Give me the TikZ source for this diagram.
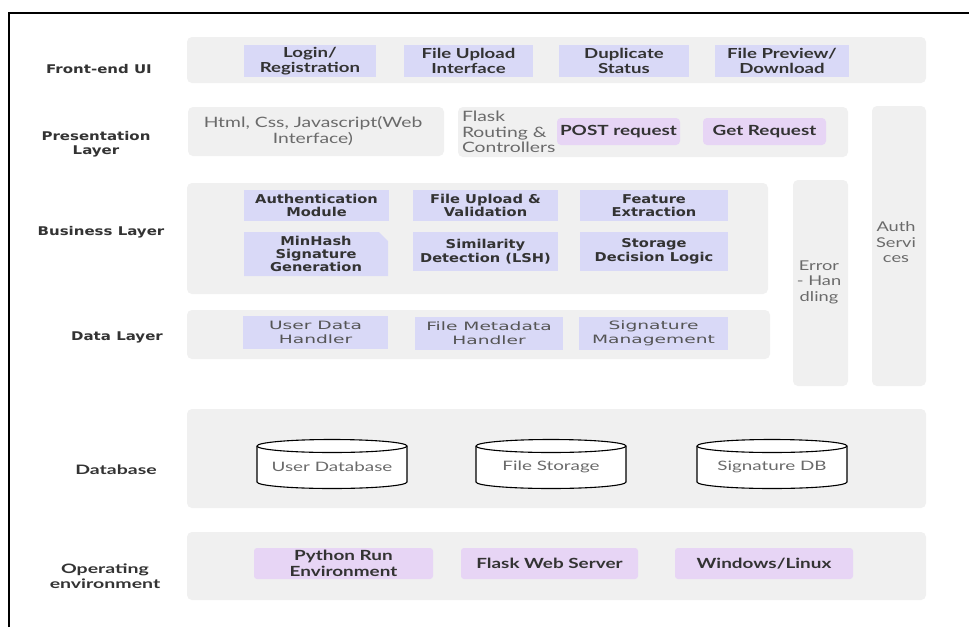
\documentclass[tikz,border=0pt]{standalone}
\usepackage{fontspec}
\setmainfont[FakeStretch=1.2]{Lato}
\newfontfamily\latowide[FakeStretch=1.35]{Lato}
\newfontfamily\latoxwide[FakeStretch=1.45]{Lato}
\newfontfamily\latolab[FakeStretch=1.5]{Lato}
\newfontfamily\dvfont[FakeStretch=1.2]{DejaVu Sans}
\newfontfamily\dvlab[FakeStretch=1.25]{DejaVu Sans}
\newfontfamily\dvwide[FakeStretch=1.62]{DejaVu Sans}
\definecolor{bandc}{HTML}{F0F0F0}
\definecolor{lav}{HTML}{D9D9F7}
\definecolor{pur}{HTML}{E7D5F5}
\definecolor{txt}{HTML}{333333}
\definecolor{gtxt}{HTML}{6A6A6A}
\definecolor{dtxt}{HTML}{555555}
\newcommand\bx[7]{\node[#1, anchor=north west, minimum width={(#5)-(#3)}, minimum height={(#6)-(#4)}] (#2) at (#3,#4) {#7};}
\tikzset{
  base/.style={inner sep=0pt, outer sep=0pt, align=center},
  band/.style={base, fill=bandc, rounded corners=5pt},
  layerlab/.style={base, text=txt, font=\dvlab\bfseries\fontsize{12}{14}\selectfont},
  layerlabb/.style={base, text=txt, font=\latolab\bfseries\fontsize{13}{15.5}\selectfont},
  fbox/.style={base, fill=lav, text=txt, font=\latowide\bfseries\fontsize{13.8}{14.5}\selectfont},
  bbox/.style={base, fill=lav, text=txt, font=\dvfont\bfseries\fontsize{12.2}{13.5}\selectfont},
  dbox/.style={base, fill=lav, text=dtxt, font=\dvwide\fontsize{11.5}{14}\selectfont},
  pbox/.style={base, fill=pur, rounded corners=4pt, text=txt, font=\latowide\bfseries\fontsize{14}{15}\selectfont},
  obox/.style={base, fill=pur, rounded corners=3pt, text=txt, font=\latowide\bfseries\fontsize{14}{15.5}\selectfont},
  graytext/.style={base, text=gtxt, font=\latowide\fontsize{14.3}{15.5}\selectfont},
  coltext/.style={base, text=gtxt, font=\latowide\fontsize{13.5}{15.5}\selectfont},
  cyltext/.style={base, text=gtxt, font=\latoxwide\fontsize{13}{15}\selectfont},
  cylline/.style={draw=black, line width=1.1pt, fill=white},
  frame/.style={line width=2.4pt, black}
}
\begin{document}
\begin{tikzpicture}[x=1pt,y=-1pt]
\useasboundingbox (0,0) rectangle (969,627);
\fill[white] (0,0) rectangle (969,627);
% frame
\coordinate (fbl) at (9.2,627);
\coordinate (ftl) at (9.2,13.2);
\coordinate (ftr) at (969,13.2);
\draw[frame] (fbl) -- (ftl) -- (ftr);

% ---------- Front-end UI
\bx{band}{feband}{187}{37}{926}{83}{}
\node[layerlab] (felab) at (99,69) {Front-end UI};
\bx{fbox}{login}{244}{45}{376}{77}{Login/\\Registration}
\bx{fbox}{upl}{404}{45}{533}{77}{File Upload\\Interface}
\bx{fbox}{dup}{559}{45}{689}{77}{Duplicate\\Status}
\bx{fbox}{prev}{715}{45}{849}{77}{File Preview/\\Download}

% ---------- Presentation layer
\node[layerlab] (prlab) at (96,144.5) {Presentation\\Layer};
\bx{band}{html}{188}{107}{444}{156}{}
\node[graytext] (htmltext) at (313,131) {Html, Css, Javascript(Web\\Interface)};
\bx{band}{flask}{458}{107}{848}{157}{}
\node[graytext, anchor=west, align=left] (flasktext) at (462,132) {Flask\\Routing \&\\Controllers};
\bx{pbox}{post}{557}{118}{680}{145}{POST request}
\bx{pbox}{get}{703}{118}{826}{145}{Get Request}

% ---------- side columns
\bx{band}{authcol}{872}{106}{926}{386}{}
\node[coltext, anchor=north] (authtext) at (896,222) {Auth\\Servi\\ces};
\bx{band}{errcol}{793}{180}{848}{386}{}
\node[coltext] (errtext) at (819,282) {Error\\- Han\\dling};

% ---------- Business layer
\bx{band}{busband}{187}{183}{768}{294}{}
\node[layerlab] (buslab) at (101,232) {Business Layer};
\bx{bbox}{authm}{244}{190}{389}{221}{Authentication\\Module}
\bx{bbox}{fuv}{413}{190}{558}{221}{File Upload \&\\Validation}
\bx{bbox}{feat}{580}{190}{728}{221}{Feature\\Extraction}
\fill[lav] (244,232) -- (379,232) -- (388,241) -- (388,276) -- (244,276) -- cycle;
\bx{base, text=txt, font=\dvfont\bfseries\fontsize{12.2}{13.2}\selectfont}{minh}{244}{232}{388}{276}{MinHash\\Signature\\Generation}
\bx{bbox}{sim}{413}{232}{558}{271}{Similarity\\Detection (LSH)}
\bx{bbox}{stor}{580}{232}{728}{271}{Storage\\Decision Logic}

% ---------- Data layer
\bx{band}{databand}{187}{310}{770}{359}{}
\node[layerlab] (datalab) at (117,337) {Data Layer};
\bx{dbox}{udh}{243}{316}{388}{349}{User Data\\Handler}
\bx{dbox}{fmh}{415}{317}{563}{350}{File Metadata\\Handler}
\bx{dbox}{sigm}{579}{317}{728}{350}{Signature\\Management}

% ---------- Database
\bx{band}{dbband}{187}{409}{926}{508}{}
\node[layerlabb] (dblab) at (116,470) {Database};
\foreach \nm/\xa/\xb/\tx in {udb/257/407/User Database, fst/476/626/File Storage, sdb/697/847/Signature DB}{
  \draw[cylline] (\xa,446) -- (\xa,482) arc[start angle=180, end angle=360, x radius={(\xb-\xa)/2*1pt}, y radius=6.5pt] -- (\xb,446) arc[start angle=0, end angle=180, x radius={(\xb-\xa)/2*1pt}, y radius=6.5pt] -- cycle;
  \draw[cylline, fill=none] (\xa,446) arc[start angle=180, end angle=360, x radius={(\xb-\xa)/2*1pt}, y radius=6.5pt];
  \node[cyltext] (\nm) at ({(\xa+\xb)/2},467) {\tx};
}

% ---------- Operating environment
\bx{band}{opband}{187}{532}{926}{600}{}
\node[layerlabb] (oplab) at (105,576) {Operating\\environment};
\bx{obox}{py}{254}{548}{433}{579}{Python Run\\Environment}
\bx{obox}{fws}{461}{548}{638}{579}{Flask Web Server}
\bx{obox}{win}{675}{548}{853}{579}{Windows/Linux}
\end{tikzpicture}
\end{document}
